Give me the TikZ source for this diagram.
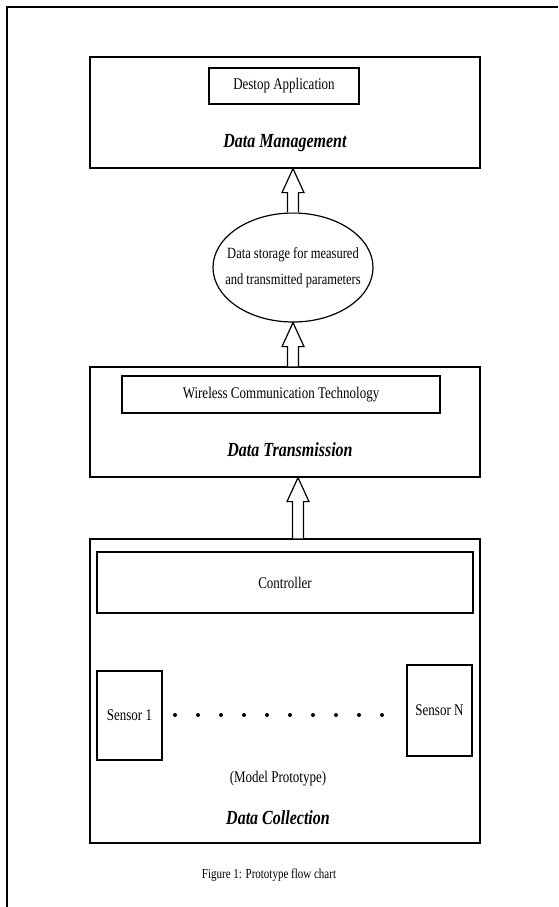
\documentclass[tikz,border=0pt]{standalone}
\usepackage{fontspec}
\setmainfont{Liberation Serif}
\usepackage{graphicx}
\usepackage{tikz}
\usetikzlibrary{calc,shapes.geometric}

% text in the figure is set a bit tall
\newcommand{\tall}[1]{\scalebox{1}[1.25]{#1}}
% hollow block arrow, #1 = tail, #2 = tip straight above it
\newcommand{\hollowup}[2]{%
  \draw[arrowline] ($(#1)+(-5.5,0)$) -- ($(#2)+(-5.5,24)$) -- ($(#2)+(-11,24)$) -- (#2)
    -- ($(#2)+(11,24)$) -- ($(#2)+(5.5,24)$) -- ($(#1)+(5.5,0)$);}

\begin{document}
\begin{tikzpicture}[x=1pt,y=-1pt,
  layer/.style={draw,line width=1.2pt,inner sep=0pt,minimum width=390pt},
  inbox/.style={draw,line width=1.2pt,inner sep=0pt,font=\fontsize{13}{15}\selectfont},
  title/.style={font=\fontsize{16}{18}\selectfont\bfseries\itshape},
  plain/.style={font=\fontsize{13}{15}\selectfont},
  arrowline/.style={line width=1.2pt,line join=miter,fill=white}]

\useasboundingbox (0,0) rectangle (558,907);
\draw[line width=1.5pt] (7,907)--(7,7)--(558,7);

% data management
\node[layer,minimum height=111pt] (mgmt) at (285,112.5) {};
\node[inbox,minimum width=150pt,minimum height=36pt] (desk) at (284,86) {\tall{Destop Application}};
\node[title] (mgmtlbl) at (285,143) {\tall{Data Management}};

% storage
\node[draw,ellipse,line width=1.2pt,inner sep=0pt,minimum width=160pt,minimum height=109pt] (ell) at (293,267.5) {};
\node[align=center,font=\fontsize{12.5}{26}\selectfont] (elltxt) at (ell) {\tall{Data storage for measured}\\\tall{and transmitted parameters}};

% data transmission
\node[layer,minimum height=110pt] (trans) at (285,422) {};
\node[inbox,minimum width=318pt,minimum height=37pt] (wire) at (281,394.5) {\tall{Wireless Communication Technology}};
\node[title] (translbl) at (290,450) {\tall{Data Transmission}};

% data collection
\node[layer,minimum height=304pt] (coll) at (285,691) {};
\node[inbox,minimum width=376pt,minimum height=61pt] (ctrl) at (285,582.5) {\tall{Controller}};
\node[inbox,minimum width=65pt,minimum height=89pt] (sone) at (129.5,715.5) {\tall{Sensor 1}};
\node[inbox,minimum width=65pt,minimum height=91pt] (sn) at (439.5,710.5) {\tall{Sensor N}};
\foreach \i in {0,...,9}
  \fill (175+\i*23,715) circle (2pt);
\node[plain] (proto) at (278,779) {\tall{(Model Prototype)}};
\node[title] (colllbl) at (278,818) {\tall{Data Collection}};

\node[font=\fontsize{11}{13}\selectfont] (caption) at (269,875) {\tall{Figure 1: Prototype flow chart}};

% arrows
\coordinate (t1) at (ell.north |- mgmt.south);
\coordinate (b2) at (ell.south |- trans.north);
\coordinate (t3) at ($(ell.south |- trans.south)+(5,0)$);
\coordinate (b3) at ($(ell.south |- coll.north)+(5,0)$);
\hollowup{ell.north}{t1}
\hollowup{b2}{ell.south}
\hollowup{b3}{t3}

\end{tikzpicture}
\end{document}
